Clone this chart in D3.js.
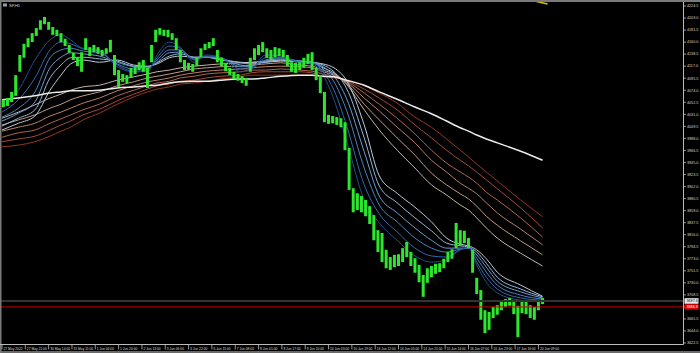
<!DOCTYPE html>
<html>
  <head>
    <style>
      body { margin: 0; background: #000; }
      svg { display: block; }
      text { font-family: "Liberation Sans", Arial, sans-serif; }
    </style>
  </head>
  <body>
    <div id="chart"></div>
    <script src="https://d3js.org/d3.v7.min.js"></script>
    <script>

    // price, one bar per 3 hours (high / low)
    var barHigh = [4057,4060,4071,4101,4137,4157,4167,4176,4185,4199,
      4205,4196,4187,4182,4176,4166,4155,4141,4132,4142,
      4167,4151,4155,4151,4146,4149,4164,4137,4110,4103,
      4101,4114,4116,4124,4128,4114,4155,4182,4185,4182,
      4182,4176,4167,4146,4128,4123,4121,4132,4149,4157,
      4160,4167,4146,4132,4123,4114,4107,4103,4099,4096,
      4132,4149,4155,4160,4149,4146,4151,4149,4146,4137,
      4124,4123,4124,4132,4139,4142,4114,4101,4071,4030,
      4028,4026,4024,4017,3971,3899,3890,3885,3878,3867,
      3851,3824,3819,3789,3776,3780,3781,3792,3803,3785,
      3774,3762,3744,3756,3760,3764,3765,3773,3785,3790,
      3837,3824,3823,3810,3789,3739,3717,3681,3678,3687,
      3690,3696,3701,3703,3699,3689,3699,3696,3690,3687,
      3699,3703];
    var barLow = [4044,4046,4053,4064,4107,4132,4151,4160,4171,4182,
      4192,4182,4173,4171,4160,4153,4141,4128,4117,4107,
      4146,4135,4142,4139,4135,4139,4142,4101,4080,4089,
      4087,4096,4103,4110,4107,4078,4124,4160,4173,4171,
      4169,4164,4146,4124,4110,4110,4107,4117,4133,4146,
      4149,4153,4124,4117,4108,4101,4094,4091,4087,4082,
      4107,4128,4137,4142,4132,4128,4133,4135,4133,4117,
      4107,4105,4110,4114,4121,4110,4092,4069,4017,4014,
      4015,4012,4008,3967,3896,3856,3860,3856,3849,3835,
      3806,3785,3767,3756,3753,3758,3760,3767,3776,3760,
      3748,3731,3705,3730,3740,3746,3749,3756,3767,3773,
      3792,3796,3801,3792,3748,3710,3664,3640,3646,3667,
      3673,3681,3687,3689,3674,3633,3676,3674,3667,3664,
      3681,3692];

    var maHours = [0,12,24,35,43,50,59,71,84,96,106,113,122,130,140,149,159,174,181,192,
      203,217,226,234,242,251,264,275,288,301,313,324,334,340,346,353,361,378,394];

    // short averages, fastest first
    var fast1 = [4042,4074,4128,4164,4173,4164,4149,4146,4116,4107,4107,4137,4160,4151,4124,4137,4133,4107,4110,4137,
      4135,4123,4121,4101,4057,3985,3878,3837,3806,3778,3767,3771,3789,3794,3762,3731,3712,3699,3696];
    var fast2 = [4035,4057,4096,4146,4160,4157,4148,4144,4119,4108,4110,4132,4153,4149,4128,4135,4133,4112,4112,4132,
      4133,4124,4123,4107,4074,4012,3905,3853,3821,3792,3778,3776,3789,3792,3767,3740,3719,3703,3699];
    var fast3 = [4026,4042,4071,4132,4146,4149,4144,4141,4121,4112,4112,4128,4146,4146,4130,4133,4132,4116,4116,4128,
      4132,4126,4124,4112,4089,4039,3935,3869,3839,3810,3792,3785,3790,3792,3774,3749,3726,3708,3701];
    var fast4 = [4019,4033,4053,4114,4133,4141,4139,4135,4124,4116,4114,4124,4141,4142,4132,4133,4130,4119,4117,4126,
      4130,4126,4124,4116,4099,4060,3964,3885,3855,3828,3806,3792,3792,3792,3780,3758,3733,3714,3703];
    var fast5 = [4010,4024,4039,4096,4119,4132,4133,4130,4126,4117,4116,4123,4135,4139,4133,4133,4130,4123,4121,4124,
      4128,4126,4124,4119,4107,4078,3989,3903,3873,3846,3823,3801,3796,3794,3785,3765,3740,3719,3705];
    var fast6 = [4003,4015,4028,4074,4101,4121,4128,4124,4128,4119,4117,4121,4132,4135,4133,4133,4128,4124,4123,4124,
      4126,4126,4124,4121,4114,4092,4012,3921,3890,3865,3839,3810,3799,3796,3789,3773,3749,3726,3706];

    // long averages, fastest first
    var slow1 = [4024,4035,4048,4060,4067,4074,4080,4083,4092,4098,4103,4107,4110,4114,4117,4119,4121,4123,4124,4126,
      4128,4124,4123,4114,4105,4085,4039,4003,3967,3935,3905,3887,3869,3860,3846,3828,3810,3783,3760];
    var slow2 = [4012,4021,4030,4042,4049,4057,4064,4071,4082,4089,4096,4099,4103,4107,4112,4114,4116,4117,4119,4121,
      4123,4119,4117,4110,4103,4087,4049,4021,3989,3958,3926,3905,3889,3880,3867,3849,3833,3805,3780];
    var slow3 = [4001,4008,4015,4028,4035,4042,4051,4060,4073,4082,4089,4092,4096,4101,4105,4108,4110,4112,4114,4116,
      4117,4116,4114,4107,4101,4089,4060,4037,4008,3980,3949,3928,3908,3899,3889,3873,3855,3826,3798];
    var slow4 = [3990,3998,4003,4015,4023,4030,4039,4049,4064,4074,4082,4087,4090,4096,4099,4103,4105,4107,4110,4110,
      4112,4110,4108,4103,4099,4090,4069,4049,4024,3996,3967,3944,3928,3919,3908,3892,3878,3846,3812];
    var slow5 = [3982,3987,3992,4003,4012,4019,4030,4040,4055,4067,4076,4082,4085,4090,4092,4096,4099,4101,4105,4107,
      4107,4107,4105,4099,4098,4091,4076,4060,4039,4012,3989,3967,3949,3939,3928,3914,3898,3864,3828];
    var slow6 = [3973,3976,3982,3992,4001,4008,4021,4033,4049,4062,4071,4076,4080,4085,4087,4090,4094,4098,4101,4101,
      4101,4101,4101,4098,4096,4092,4082,4069,4051,4026,4008,3987,3967,3955,3942,3928,3912,3878,3848];

    // long-term average (white)
    var trendLine = [4057,4060,4064,4069,4071,4073,4073,4074,4078,4080,4082,4083,4087,4089,4090,4090,4092,4094,4094,4096,
      4099,4101,4101,4099,4098,4092,4083,4071,4058,4044,4032,4019,4007,4001,3994,3987,3980,3965,3949];

    var bidPrice = 3697.6;
    var stopPrice = 3686.9;

    var yTicks = [4224.5,4203.0,4181.5,4160.0,4138.5,4117.0,4095.5,4074.0,4052.5,4031.0,4009.5,3988.0,3966.5,3945.0,3923.5,
      3902.0,3880.5,3859.0,3837.5,3816.0,3794.5,3773.0,3751.5,3730.0,3708.5,3687.0,3665.5,3644.0,3622.5];

    var timeLabels = ["27 May 2022","27 May 21:00","30 May 14:00","31 May 11:00","1 Jun 04:00","1 Jun 20:00",
      "2 Jun 13:00","3 Jun 06:00","3 Jun 22:00","6 Jun 15:00","7 Jun 08:00","8 Jun 01:00","8 Jun 17:00",
      "9 Jun 10:00","10 Jun 03:00","10 Jun 19:00","13 Jun 12:00","14 Jun 05:00","14 Jun 21:00","15 Jun 14:00",
      "16 Jun 07:00","16 Jun 23:00","17 Jun 16:00","20 Jun 09:00"];

    var fastColors = ["#1e4f91","#2f6aad","#4a84c2","#6b9dcf","#93b7da","#bcc9d6"];
    var slowColors = ["#c4b4a8","#c09a86","#b98068","#b0664c","#a44c34","#973522"];

    var width = 700, height = 353;
    var plotRight = 683.5, plotBottom = 344.5;

    var svg = d3.select("#chart")
      .append("svg")
        .attr("width", width)
        .attr("height", height);

    svg.append("rect")
      .attr("width", width)
      .attr("height", height)
      .attr("fill", "#000");

    // hours -> x, price -> y
    var x = d3.scaleLinear()
      .domain([0, 496])
      .range([2, 2 + 496 * 1.372]);
    var y = d3.scaleLinear()
      .domain([3622.5, 4224.5])
      .range([343, 6]);

    var plot = svg.append("g");

    // moving averages
    var maLine = function(values) {
      return d3.line()
        .x(function(d, i) { return x(maHours[i]); })
        .y(function(d) { return y(d); })
        .curve(d3.curveMonotoneX)(values);
    };

    [slow6, slow5, slow4, slow3, slow2, slow1].forEach(function(s, i) {
      plot.append("path")
        .attr("d", maLine(s))
        .attr("fill", "none")
        .attr("stroke", slowColors[5 - i])
        .attr("stroke-width", 1);
    });
    [fast6, fast5, fast4, fast3, fast2, fast1].forEach(function(s, i) {
      plot.append("path")
        .attr("d", maLine(s))
        .attr("fill", "none")
        .attr("stroke", fastColors[5 - i])
        .attr("stroke-width", 1);
    });
    plot.append("path")
      .attr("d", maLine(trendLine))
      .attr("fill", "none")
      .attr("stroke", "#ececec")
      .attr("stroke-width", 1.5);

    // bars
    plot.selectAll("rect.bar")
      .data(barHigh)
      .enter()
      .append("rect")
        .attr("class", "bar")
        .attr("x", function(d, i) { return x(i * 3 + 1) - 1.5; })
        .attr("y", function(d) { return y(d); })
        .attr("width", 3)
        .attr("height", function(d, i) { return Math.max(1, y(barLow[i]) - y(d)); })
        .attr("fill", "#2ee62e");

    // bid and stop lines
    svg.append("line")
      .attr("x1", 0).attr("x2", plotRight)
      .attr("y1", y(bidPrice)).attr("y2", y(bidPrice))
      .attr("stroke", "#333")
      .attr("stroke-width", 2);
    svg.append("line")
      .attr("x1", 0).attr("x2", plotRight)
      .attr("y1", y(stopPrice)).attr("y2", y(stopPrice))
      .attr("stroke", "#d00000")
      .attr("stroke-width", 1);

    // chart shift marker at the last bar
    var lastX = x(maHours[maHours.length - 1]);
    svg.append("line")
      .attr("x1", lastX - 6).attr("x2", lastX + 5)
      .attr("y1", 1.5).attr("y2", 4)
      .attr("stroke", "#d8c400")
      .attr("stroke-width", 1.5);

    // frame
    svg.append("rect").attr("x", 0).attr("y", 0).attr("width", width).attr("height", 2).attr("fill", "#7a7a7a");
    svg.append("rect").attr("x", 0).attr("y", 351).attr("width", width).attr("height", 2).attr("fill", "#6a6a6a");
    svg.append("rect").attr("x", 0).attr("y", 0).attr("width", 1.5).attr("height", height).attr("fill", "#7a7a7a");
    svg.append("line")
      .attr("x1", plotRight).attr("x2", plotRight)
      .attr("y1", 2).attr("y2", plotBottom)
      .attr("stroke", "#bbb").attr("stroke-width", 1);
    svg.append("line")
      .attr("x1", 0).attr("x2", plotRight)
      .attr("y1", plotBottom).attr("y2", plotBottom)
      .attr("stroke", "#bbb").attr("stroke-width", 1);

    // price axis
    var yAxis = svg.append("g");
    yTicks.forEach(function(t) {
      yAxis.append("line")
        .attr("x1", plotRight).attr("x2", plotRight + 2.5)
        .attr("y1", y(t)).attr("y2", y(t))
        .attr("stroke", "#bbb").attr("stroke-width", 0.8);
      yAxis.append("text")
        .attr("x", plotRight + 3.5)
        .attr("y", y(t))
        .attr("dy", "0.35em")
        .attr("font-size", 3.7)
        .attr("fill", "#d8d8d8")
        .text(t.toFixed(1));
    });

    // price boxes
    svg.append("rect")
      .attr("x", plotRight + 1).attr("y", y(bidPrice) - 2.8)
      .attr("width", 14).attr("height", 5.6)
      .attr("fill", "#e8e8e8");
    svg.append("text")
      .attr("x", plotRight + 3).attr("y", y(bidPrice)).attr("dy", "0.35em")
      .attr("font-size", 3.7).attr("fill", "#000")
      .text(bidPrice.toFixed(1));
    svg.append("rect")
      .attr("x", plotRight + 1).attr("y", y(stopPrice) - 2.8)
      .attr("width", 14).attr("height", 5.6)
      .attr("fill", "#e00000");
    svg.append("text")
      .attr("x", plotRight + 3).attr("y", y(stopPrice)).attr("dy", "0.35em")
      .attr("font-size", 3.7).attr("fill", "#fff")
      .text(stopPrice.toFixed(1));

    // time axis
    var xAxis = svg.append("g");
    timeLabels.forEach(function(t, i) {
      var px = x(i * 17);
      xAxis.append("line")
        .attr("x1", px).attr("x2", px)
        .attr("y1", plotBottom).attr("y2", plotBottom + 5)
        .attr("stroke", "#bbb").attr("stroke-width", 0.8);
      xAxis.append("text")
        .attr("x", px + 1.5)
        .attr("y", 348.5)
        .attr("dy", "0.35em")
        .attr("font-size", 3.3)
        .attr("fill", "#d8d8d8")
        .text(t);
    });

    // title
    svg.append("rect").attr("x", 3).attr("y", 3.5).attr("width", 4).attr("height", 3).attr("fill", "#999");
    svg.append("text")
      .attr("x", 9).attr("y", 5.2).attr("dy", "0.35em")
      .attr("font-size", 4).attr("fill", "#ddd")
      .text("SP,H1");

    </script>
  </body>
</html>
